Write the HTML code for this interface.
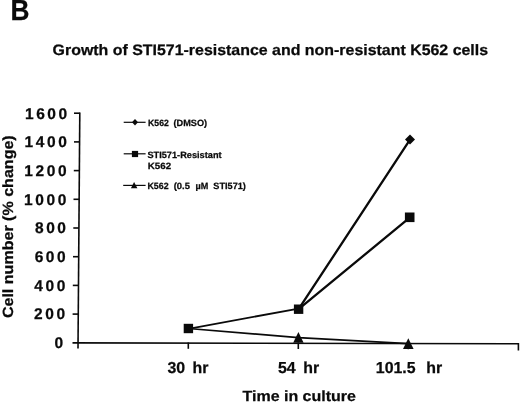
<!DOCTYPE html>
<html><head><meta charset="utf-8">
<style>
html,body{margin:0;padding:0;background:#fff;}
body{width:520px;height:403px;overflow:hidden;}
svg{display:block;will-change:transform;}
text{font-family:"Liberation Sans",sans-serif;font-weight:bold;fill:#0a0a0a;stroke:#0a0a0a;stroke-width:0.25;text-rendering:geometricPrecision;}
</style></head><body>
<svg width="520" height="403" viewBox="0 0 520 403">
<rect width="520" height="403" fill="#fff"/>
<text transform="translate(10.4,19.5) scale(0.9,1)" font-size="29.2" stroke-width="0.5">B</text>
<text x="52.6" y="55.2" font-size="15.1" textLength="435.5" lengthAdjust="spacingAndGlyphs">Growth of STI571-resistance and non-resistant K562 cells</text>

<!-- axes -->
<g stroke="#0a0a0a" stroke-width="1.6" fill="none">
<line x1="79.8" y1="112.4" x2="78" y2="348.5"/>
<line x1="72.5" y1="342.9" x2="518.5" y2="343.7"/>
<line x1="74" y1="113.2" x2="79.8" y2="113.2"/>
<line x1="74" y1="141.9" x2="79.6" y2="141.9"/>
<line x1="73.8" y1="170.6" x2="79.4" y2="170.6"/>
<line x1="73.5" y1="199.3" x2="79.2" y2="199.3"/>
<line x1="73.3" y1="228" x2="79" y2="228"/>
<line x1="73" y1="256.7" x2="78.8" y2="256.7"/>
<line x1="72.8" y1="285.4" x2="78.5" y2="285.4"/>
<line x1="72.6" y1="314.1" x2="78.3" y2="314.1"/>
<line x1="188.3" y1="342.5" x2="188.3" y2="348.8"/>
<line x1="298.3" y1="342.5" x2="298.3" y2="349"/>
<line x1="408.3" y1="342.5" x2="408.3" y2="349.2"/>
<line x1="518.4" y1="343" x2="518.4" y2="350.5"/>
</g>

<!-- y labels -->
<g font-size="15.5" text-anchor="end" letter-spacing="2.6" stroke-width="0.5">
<text x="69.8" y="118.7">1600</text>
<text x="69.5" y="147.3">1400</text>
<text x="69.2" y="175.9">1200</text>
<text x="68.9" y="204.5">1000</text>
<text x="68.6" y="233.3">800</text>
<text x="68.3" y="262.0">600</text>
<text x="68.0" y="290.7">400</text>
<text x="67.7" y="319.2">200</text>
<text x="65.7" y="347.5">0</text>
</g>
<text transform="translate(12.6,318.1) rotate(-90)" font-size="14.8" textLength="182.8" lengthAdjust="spacingAndGlyphs">Cell number (% change)</text>

<!-- x labels -->
<g font-size="15.9">
<text x="167.5" y="373.1" word-spacing="3">30 hr</text>
<text x="278" y="373.3" word-spacing="3.2">54 hr</text>
<text x="375.8" y="373.3" word-spacing="6.2">101.5 hr</text>
</g>
<text x="242.5" y="401" font-size="14.7" textLength="113.4" lengthAdjust="spacingAndGlyphs">Time in culture</text>

<!-- lines -->
<g stroke="#0a0a0a" fill="none" stroke-linecap="round">
<line x1="188.4" y1="328.8" x2="298.6" y2="308.6" stroke-width="1.8"/>
<line x1="298.6" y1="309.2" x2="410" y2="139.6" stroke-width="2.3"/>
<line x1="298.6" y1="309.2" x2="409.7" y2="217.6" stroke-width="2.3"/>
<polyline points="188.4,328.5 298.4,337.6 408.5,343.6" stroke-width="1.6"/>
</g>
<!-- markers -->
<g fill="#0a0a0a">
<rect x="183.7" y="323.8" width="9.4" height="9.4"/>
<rect x="293.9" y="304.5" width="9.4" height="9.4"/>
<rect x="404.9" y="212.5" width="9.6" height="9.6"/>
<path d="M410 134.6 L415 139.6 L410 144.6 L405 139.6Z"/>
<path d="M298.4 332 L303.6 342.7 L293.2 342.7Z"/>
<path d="M408.3 338.2 L413.6 349.1 L403 349.1Z"/>
</g>

<!-- legend -->
<g stroke="#0a0a0a" stroke-width="1.2">
<line x1="123.7" y1="122.3" x2="145.6" y2="122.3"/>
<line x1="123.7" y1="153.8" x2="145.6" y2="153.8"/>
<line x1="123.2" y1="185.4" x2="145.6" y2="185.4"/>
</g>
<g fill="#0a0a0a">
<path d="M135 119.1 L138 122.3 L135 125.5 L132 122.3Z"/>
<rect x="131.9" y="150.9" width="6.2" height="6.2"/>
<path d="M134.1 182 L137.4 188.2 L130.9 188.2Z"/>
</g>
<g font-size="9.1" lengthAdjust="spacingAndGlyphs">
<text x="148.1" y="126.3" textLength="20.8" lengthAdjust="spacingAndGlyphs">K562</text>
<text x="173.5" y="126.3" textLength="33.6" lengthAdjust="spacingAndGlyphs">(DMSO)</text>
<text x="147.4" y="157.6" textLength="74.2" lengthAdjust="spacingAndGlyphs">STI571-Resistant</text>
<text x="147.7" y="168.8" textLength="23.4" lengthAdjust="spacingAndGlyphs">K562</text>
<text x="147.4" y="189.3" textLength="21.2" lengthAdjust="spacingAndGlyphs">K562</text>
<text x="173.7" y="189.3" textLength="16.2" lengthAdjust="spacingAndGlyphs">(0.5</text>
<text x="195.5" y="189.3" textLength="12.8" lengthAdjust="spacingAndGlyphs">µM</text>
<text x="213.3" y="189.3" textLength="32.6" lengthAdjust="spacingAndGlyphs">STI571)</text>
</g>
</svg>
</body></html>
